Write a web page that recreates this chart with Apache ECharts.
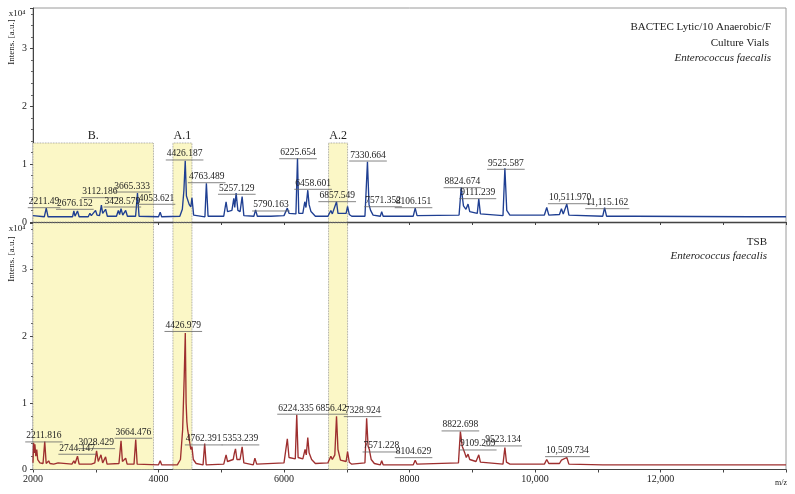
<!DOCTYPE html>
<html><head><meta charset="utf-8">
<script src="https://cdn.jsdelivr.net/npm/echarts@6/dist/echarts.min.js"></script>
<style>html,body{margin:0;padding:0;background:#fff}#c{width:795px;height:494px}</style>
</head><body><div id="c"></div>
<script>
// m/z axis
const mzTicks = [2000, 4000, 6000, 8000, 10000, 12000];
const yTicks = [0, 1, 2, 3];
// Spectrum traces: [m/z, intensity x10^4]
const topTrace = [[2000,0.11],[2030,0.09],[2180,0.09],[2211,0.24],[2240,0.09],[2400,0.09],[2427,0.12],[2450,0.09],[2630,0.09],[2651,0.19],[2670,0.10],[2709,0.19],[2735,0.09],[2880,0.09],[2907,0.15],[2930,0.11],[2997,0.20],[3020,0.12],[3060,0.11],[3090,0.29],[3110,0.15],[3140,0.12],[3157,0.22],[3185,0.10],[3330,0.10],[3360,0.20],[3380,0.13],[3403,0.23],[3430,0.12],[3477,0.20],[3505,0.10],[3635,0.10],[3665,0.50],[3690,0.10],[4000,0.09],[4027,0.17],[4050,0.09],[4340,0.10],[4380,0.22],[4405,0.55],[4426,1.06],[4445,0.45],[4465,0.42],[4490,0.30],[4515,0.26],[4533,0.42],[4560,0.12],[4740,0.09],[4763,0.67],[4790,0.10],[5040,0.10],[5077,0.35],[5100,0.18],[5170,0.20],[5200,0.41],[5215,0.25],[5237,0.50],[5265,0.20],[5300,0.18],[5333,0.44],[5360,0.11],[5520,0.10],[5547,0.21],[5575,0.10],[5740,0.10],[5760,0.13],[5790,0.10],[6000,0.11],[6053,0.24],[6080,0.15],[6190,0.14],[6215,1.10],[6235,0.15],[6300,0.15],[6331,0.35],[6350,0.25],[6379,0.55],[6400,0.30],[6430,0.18],[6500,0.10],[6700,0.10],[6747,0.20],[6770,0.14],[6837,0.35],[6860,0.15],[6990,0.15],[7013,0.27],[7040,0.13],[7080,0.10],[7290,0.10],[7330,1.04],[7355,0.30],[7380,0.20],[7420,0.12],[7535,0.10],[7557,0.18],[7580,0.10],[7760,0.10],[7787,0.12],[7810,0.10],[8060,0.10],[8091,0.24],[8120,0.11],[8790,0.12],[8824,0.60],[8860,0.28],[8900,0.22],[8933,0.31],[8960,0.18],[9080,0.15],[9104,0.40],[9130,0.14],[9490,0.11],[9520,0.93],[9550,0.20],[9600,0.12],[10150,0.12],[10187,0.25],[10220,0.12],[10390,0.13],[10421,0.23],[10450,0.14],[10507,0.31],[10540,0.12],[11080,0.10],[11109,0.25],[11140,0.10],[11550,0.10],[11573,0.11],[11600,0.10],[13420,0.09],[13440,0.10],[13460,0.09],[14000,0.09]];
const bottomTrace = [[2000,0.10],[2010,0.40],[2020,0.25],[2030,0.38],[2045,0.20],[2060,0.30],[2075,0.15],[2090,0.18],[2110,0.10],[2160,0.09],[2187,0.42],[2210,0.09],[2250,0.13],[2270,0.09],[2300,0.11],[2330,0.08],[2400,0.10],[2430,0.08],[2620,0.08],[2651,0.13],[2670,0.09],[2709,0.20],[2735,0.08],[2880,0.08],[2907,0.10],[2930,0.08],[2985,0.10],[3013,0.28],[3040,0.12],[3065,0.10],[3083,0.22],[3110,0.10],[3140,0.10],[3157,0.19],[3180,0.08],[3370,0.09],[3403,0.43],[3425,0.12],[3450,0.10],[3477,0.17],[3500,0.08],[3610,0.08],[3637,0.45],[3660,0.08],[4000,0.07],[4027,0.13],[4050,0.07],[4300,0.07],[4350,0.15],[4385,0.60],[4410,1.40],[4427,2.05],[4440,1.00],[4452,0.72],[4465,0.59],[4490,0.45],[4515,0.30],[4533,0.34],[4555,0.15],[4600,0.09],[4710,0.07],[4736,0.39],[4760,0.07],[5040,0.08],[5077,0.22],[5100,0.12],[5190,0.15],[5210,0.25],[5227,0.31],[5250,0.15],[5300,0.15],[5333,0.34],[5360,0.10],[5510,0.07],[5536,0.17],[5565,0.08],[6000,0.10],[6053,0.46],[6080,0.18],[6180,0.16],[6203,0.82],[6225,0.18],[6300,0.16],[6336,0.30],[6355,0.22],[6379,0.48],[6400,0.25],[6440,0.15],[6500,0.09],[6700,0.10],[6747,0.20],[6770,0.15],[6810,0.22],[6837,0.80],[6860,0.30],[6900,0.14],[6990,0.12],[7013,0.27],[7040,0.11],[7080,0.08],[7290,0.10],[7317,0.77],[7340,0.35],[7360,0.30],[7390,0.15],[7440,0.09],[7535,0.07],[7557,0.13],[7580,0.07],[8060,0.07],[8091,0.14],[8120,0.08],[8780,0.10],[8811,0.57],[8840,0.35],[8880,0.25],[8905,0.18],[8933,0.23],[8960,0.15],[9060,0.12],[9104,0.22],[9130,0.11],[9490,0.08],[9520,0.33],[9545,0.11],[9600,0.08],[10150,0.08],[10187,0.15],[10220,0.09],[10390,0.09],[10421,0.14],[10450,0.11],[10507,0.18],[10540,0.08],[11080,0.07],[11109,0.10],[11140,0.07],[13420,0.07],[13440,0.08],[13460,0.07],[14000,0.07]];
// Peak annotations: text, anchor m/z, anchor intensity
const topLabels = ["2211.49","2676.152","3112.186","3428.579","3665.333","4053.621","4426.187","4763.489","5257.129","5790.163","6225.654","6458.601","6857.549","7330.664","7571.352","8106.151","8824.674","9111.239","9525.587","10,511.970","11,115.162"];
const topLabelMz = [2176,2667,3067,3424,3579,3968,4416,4768,5248,5792,6224,6464,6848,7339,7579,8064,8843,9088,9536,10560,11152];
const topLabelInt = [0.351,0.323,0.524,0.363,0.622,0.410,1.176,0.783,0.583,0.294,1.198,0.669,0.455,1.158,0.368,0.351,0.697,0.507,1.015,0.420,0.334];
const botLabels = ["2211.816","3028.429","2744.147","3664.476","4426.979","4762.391","5353.239","6224.335","6856.42","7328.924","7571.228","8104.629","8822.698","9109.209","9523.134","10,509.734"];
const botLabelMz = [2173,3008,2704,3600,4395,4720,5307,6192,6752,7253,7552,8064,8811,9088,9493,10517];
const botLabelInt = [0.504,0.403,0.319,0.559,2.162,0.459,0.459,0.920,0.920,0.884,0.353,0.268,0.669,0.383,0.444,0.283];
// Highlighted regions
const regionNames = ["B.", "A.1", "A.2"];
const regionStart = [2000, 4230, 6710];
const regionEnd = [3920, 4533, 7013];
const regionTopInt = 1.366;

const FONT = '"Liberation Serif", "Times New Roman", serif';
const chart = echarts.init(document.getElementById('c'));
const mctx = document.createElement('canvas').getContext('2d');
const LFS = 9.5;
mctx.font = LFS + 'px ' + FONT;

function labelSeries(idx, texts, mz, ints) {
  return {
    type: 'custom', xAxisIndex: idx, yAxisIndex: idx, clip: false, z: 5, silent: true,
    data: mz.map((m, i) => [m, ints[i]]),
    renderItem: function (params, api) {
      const p = api.coord([api.value(0), api.value(1)]);
      const t = texts[params.dataIndex];
      const w = mctx.measureText(t).width;
      return { type: 'group', children: [
        { type: 'line', shape: { x1: p[0] - w / 2 - 1, y1: p[1] + 6, x2: p[0] + w / 2 + 1, y2: p[1] + 6 },
          style: { stroke: '#666', lineWidth: 0.8 } },
        { type: 'text', style: { text: t, x: p[0], y: p[1], align: 'center', verticalAlign: 'middle',
          font: LFS + 'px ' + FONT, fill: '#222' } }
      ]};
    }
  };
}
function areas(top, withLabels) {
  return regionNames.map((n, i) => [
    { xAxis: regionStart[i], yAxis: 0, name: withLabels ? n : '' },
    { xAxis: regionEnd[i], yAxis: top }
  ]);
}
const areaStyle = { color: '#fbf7c6', borderColor: '#8a8a8a', borderWidth: 0.8, borderType: 'dotted' };

function xAxisCfg(idx, showLabels) {
  return {
    type: 'value', gridIndex: idx, min: 2000, max: 14000, interval: 1000,
    axisLine: { lineStyle: { color: '#444', width: 1 } },
    axisTick: { show: true, length: 3, lineStyle: { color: '#444' } },
    splitLine: { show: false },
    axisLabel: { show: showLabels, fontFamily: FONT, fontSize: 10, color: '#222', margin: 5,
      formatter: v => (mzTicks.indexOf(v) >= 0 ? (v >= 10000 ? v.toLocaleString('en-US') : String(v)) : '') }
  };
}
function yAxisCfg(idx) {
  return {
    type: 'value', gridIndex: idx, min: 0, max: 3.7, interval: 1,
    axisLine: { show: true, lineStyle: { color: '#444', width: 1 } },
    axisTick: { show: true, length: 3, lineStyle: { color: '#444' } },
    minorTick: { show: true, splitNumber: 5, length: 2, lineStyle: { color: '#666' } },
    splitLine: { show: false },
    axisLabel: { fontFamily: FONT, fontSize: 10, color: '#222', margin: 6, showMaxLabel: false,
      formatter: v => (yTicks.indexOf(v) >= 0 ? String(v) : '') }
  };
}

chart.setOption({
  animation: false,
  grid: [
    { left: 33, right: 9, top: 8, height: 214, show: true, borderColor: '#9a9a9a', borderWidth: 1 },
    { left: 33, right: 9, top: 223, height: 246.5, show: true, borderColor: '#9a9a9a', borderWidth: 1 }
  ],
  xAxis: [xAxisCfg(0, false), xAxisCfg(1, true)],
  yAxis: [yAxisCfg(0), yAxisCfg(1)],
  series: [
    { type: 'line', xAxisIndex: 0, yAxisIndex: 0, data: topTrace, showSymbol: false, z: 3,
      lineStyle: { color: '#1f3f92', width: 1.35 },
      markArea: { silent: true, itemStyle: areaStyle,
        label: { show: true, position: 'top', distance: 1, fontFamily: FONT, fontSize: 12, color: '#222' },
        data: areas(regionTopInt, true) } },
    { type: 'line', xAxisIndex: 1, yAxisIndex: 1, data: bottomTrace, showSymbol: false, z: 3,
      lineStyle: { color: '#9e2f2f', width: 1.35 },
      markArea: { silent: true, itemStyle: areaStyle, label: { show: false },
        data: areas(3.7, false) } },
    labelSeries(0, topLabels, topLabelMz, topLabelInt),
    labelSeries(1, botLabels, botLabelMz, botLabelInt)
  ],
  graphic: [
    { type: 'text', x: 17, y: 14, style: { text: 'x10⁴', font: '9px ' + FONT, fill: '#222', align: 'center', verticalAlign: 'middle' } },
    { type: 'text', x: 17, y: 229, style: { text: 'x10⁴', font: '9px ' + FONT, fill: '#222', align: 'center', verticalAlign: 'middle' } },
    { type: 'text', x: 12, y: 42, rotation: Math.PI / 2, style: { text: 'Intens. [a.u.]', font: '9px ' + FONT, fill: '#222', align: 'center', verticalAlign: 'middle' } },
    { type: 'text', x: 12, y: 259, rotation: Math.PI / 2, style: { text: 'Intens. [a.u.]', font: '9px ' + FONT, fill: '#222', align: 'center', verticalAlign: 'middle' } },
    { type: 'text', x: 771, y: 27, style: { text: 'BACTEC Lytic/10 Anaerobic/F', font: '11px ' + FONT, fill: '#222', align: 'right', verticalAlign: 'middle' } },
    { type: 'text', x: 769, y: 43, style: { text: 'Culture Vials', font: '11px ' + FONT, fill: '#222', align: 'right', verticalAlign: 'middle' } },
    { type: 'text', x: 771, y: 58, style: { text: 'Enterococcus faecalis', font: 'italic 11px ' + FONT, fill: '#222', align: 'right', verticalAlign: 'middle' } },
    { type: 'text', x: 767, y: 242, style: { text: 'TSB', font: '11px ' + FONT, fill: '#222', align: 'right', verticalAlign: 'middle' } },
    { type: 'text', x: 767, y: 256, style: { text: 'Enterococcus faecalis', font: 'italic 11px ' + FONT, fill: '#222', align: 'right', verticalAlign: 'middle' } },
    { type: 'text', x: 781, y: 483, style: { text: 'm/z', font: '8px ' + FONT, fill: '#222', align: 'center', verticalAlign: 'middle' } }
  ]
});
</script></body></html>
